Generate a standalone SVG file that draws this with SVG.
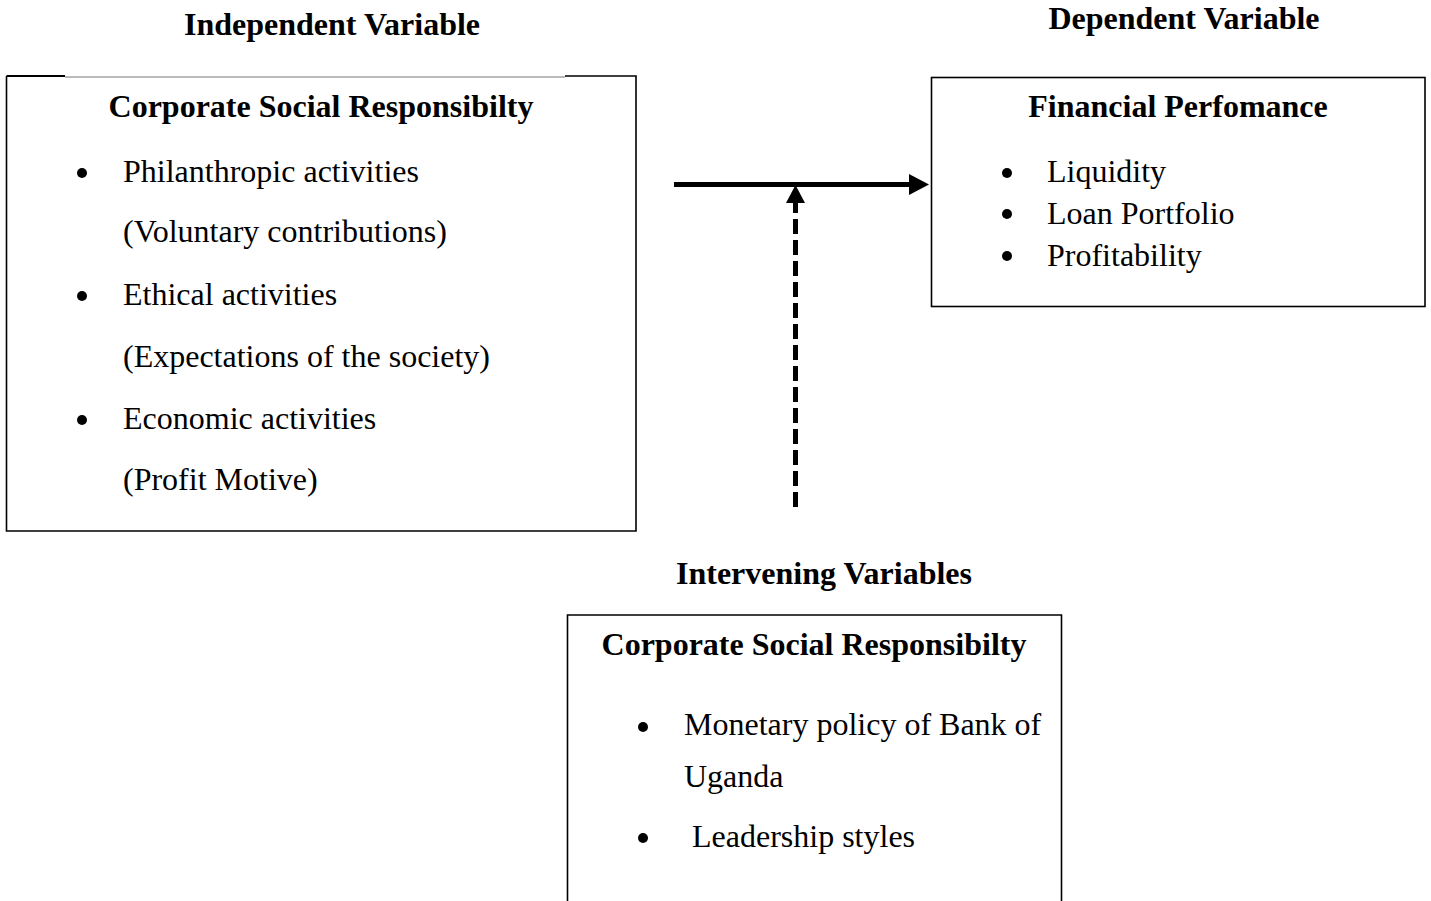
<svg xmlns="http://www.w3.org/2000/svg" width="1431" height="901" viewBox="0 0 1431 901">
  <style>
    text { font-family: "Liberation Serif", "Times New Roman", serif; font-size: 32px; fill: #000; }
    .head { font-weight: bold; text-anchor: middle; }
    .box { fill: #fff; stroke: #000; stroke-width: 1.6; }
    .dot { fill: #000; }
  </style>

  <rect width="1431" height="901" fill="#fff"/>

  <!-- section titles -->
  <g id="titles">
    <text class="head" x="332" y="35">Independent Variable</text>
    <text class="head" x="1184" y="29">Dependent Variable</text>
    <text class="head" x="824" y="584">Intervening Variables</text>
  </g>

  <!-- independent variable box -->
  <g id="node-independent">
    <path d="M6.5,76 L6.5,531 L636,531 L636,76 L565,76" fill="#fff" stroke="#000" stroke-width="1.6"/>
    <path d="M6.5,76 L65,76" stroke="#000" stroke-width="1.8"/>
    <path d="M65,77 L565,77" stroke="#777" stroke-width="1"/>
    <text class="head" x="321" y="117">Corporate Social Responsibilty</text>
    <circle class="dot" cx="82" cy="173" r="5"/>
    <text x="123" y="182">Philanthropic activities</text>
    <text x="123" y="242">(Voluntary contributions)</text>
    <circle class="dot" cx="82" cy="296" r="5"/>
    <text x="123" y="305">Ethical activities</text>
    <text x="123" y="367">(Expectations of the society)</text>
    <circle class="dot" cx="82" cy="420" r="5"/>
    <text x="123" y="429">Economic activities</text>
    <text x="123" y="490">(Profit Motive)</text>
  </g>

  <!-- dependent variable box -->
  <g id="node-dependent">
    <rect class="box" x="931.5" y="77.5" width="493.5" height="229"/>
    <text class="head" x="1178" y="117">Financial Perfomance</text>
    <circle class="dot" cx="1007" cy="173" r="5"/>
    <text x="1047" y="182">Liquidity</text>
    <circle class="dot" cx="1007" cy="214" r="5"/>
    <text x="1047" y="224">Loan Portfolio</text>
    <circle class="dot" cx="1007" cy="256" r="5"/>
    <text x="1047" y="266">Profitability</text>
  </g>

  <!-- intervening variables box -->
  <g id="node-intervening">
    <path d="M567.5,901 L567.5,615 L1061.5,615 L1061.5,901" fill="#fff" stroke="#000" stroke-width="1.6"/>
    <text class="head" x="814" y="655">Corporate Social Responsibilty</text>
    <circle class="dot" cx="643" cy="727" r="5"/>
    <text x="684" y="735">Monetary policy of Bank of</text>
    <text x="684" y="787">Uganda</text>
    <circle class="dot" cx="643" cy="838" r="5"/>
    <text x="692" y="847">Leadership styles</text>
  </g>

  <!-- connectors -->
  <g id="connectors">
    <line x1="674" y1="184.5" x2="912" y2="184.5" stroke="#000" stroke-width="5"/>
    <polygon points="909,174 929,184.5 909,195" fill="#000"/>
    <line x1="795.5" y1="507" x2="795.5" y2="202" stroke="#000" stroke-width="5" stroke-dasharray="15,6"/>
    <polygon points="786,203 795.5,185 805,203" fill="#000"/>
  </g>
</svg>
